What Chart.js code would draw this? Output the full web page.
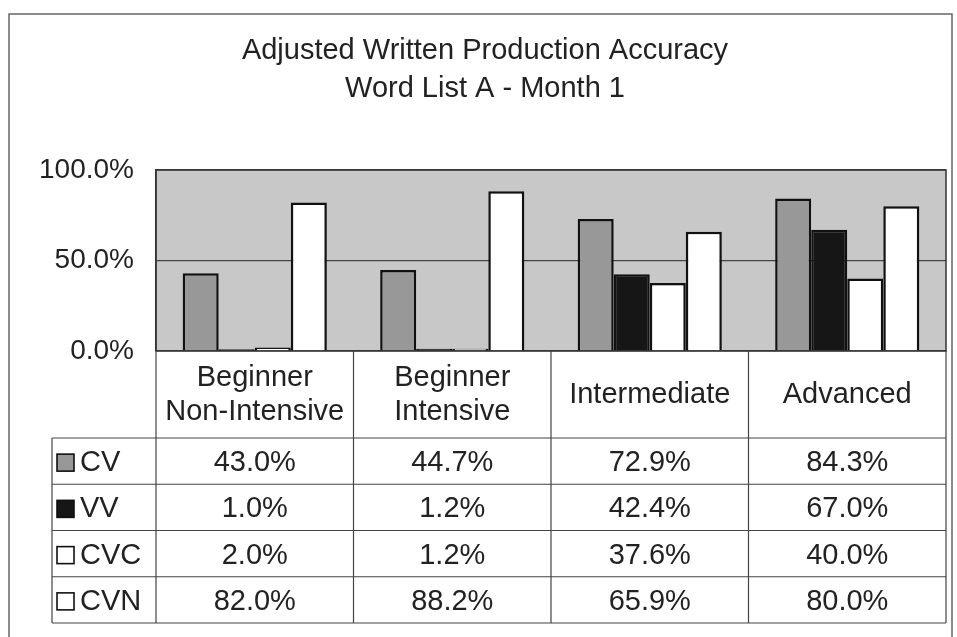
<!DOCTYPE html>
<html>
<head>
<meta charset="utf-8">
<script src="https://cdn.jsdelivr.net/npm/chart.js@4.4.1/dist/chart.umd.min.js"></script>
<style>
  html, body { margin: 0; padding: 0; background: #fff; }
  #wrap { width: 957px; height: 637px; }
</style>
</head>
<body>
<div id="wrap"><canvas id="barChart" width="957" height="637"></canvas></div>
<script>
const categories = [
    ['Beginner', 'Non-Intensive'],
    ['Beginner', 'Intensive'],
    ['Intermediate'],
    ['Advanced']
];
const seriesNames = ['CV', 'VV', 'CVC', 'CVN'];
const cvValues = [43.0, 44.7, 72.9, 84.3];
const vvValues = [1.0, 1.2, 42.4, 67.0];
const cvcValues = [2.0, 1.2, 37.6, 40.0];
const cvnValues = [82.0, 88.2, 65.9, 80.0];
const yTicks = [0, 50, 100];
const titleLines = ['Adjusted Written Production Accuracy', 'Word List A - Month 1'];

const FONT = '"Liberation Sans", Arial, sans-serif';
const TEXT = '#222';
const barColors = ['#989898', '#161616', '#ffffff', '#ffffff'];

// frame, plot background, title and the data table under the chart
const tablePlugin = {
    id: 'tablePlugin',
    beforeDraw(chart) {
        const { ctx, chartArea: a } = chart;
        ctx.save();
        ctx.fillStyle = '#fff';
        ctx.fillRect(0, 0, chart.width, chart.height);
        ctx.fillStyle = '#c8c8c8';
        ctx.fillRect(a.left, a.top, a.right - a.left, a.bottom - a.top);
        ctx.restore();
    },
    afterDraw(chart) {
        const { ctx, chartArea: a } = chart;
        const x = chart.scales.x;
        const ds = chart.data.datasets;
        ctx.save();

        // outer frame
        ctx.strokeStyle = '#666';
        ctx.lineWidth = 1.5;
        ctx.beginPath();
        ctx.moveTo(9, chart.height);
        ctx.lineTo(9, 14);
        ctx.lineTo(952, 14);
        ctx.lineTo(952, chart.height);
        ctx.stroke();

        // title
        ctx.fillStyle = TEXT;
        ctx.font = '29px ' + FONT;
        ctx.textAlign = 'center';
        ctx.textBaseline = 'middle';
        titleLines.forEach((t, i) => ctx.fillText(t, 485, 51 + i * 38));

        // plot border
        ctx.strokeStyle = '#333';
        ctx.lineWidth = 1.5;
        ctx.strokeRect(a.left, a.top, a.right - a.left, a.bottom - a.top);

        // table
        const half = (x.getPixelForValue(1) - x.getPixelForValue(0)) / 2;
        const headTop = a.bottom;
        const headBottom = 438;
        const rowH = 46.25;
        const labelLeft = 52;
        const tableBottom = headBottom + rowH * ds.length;

        ctx.strokeStyle = '#444';
        ctx.lineWidth = 1.2;
        ctx.beginPath();
        for (let i = 0; i <= categories.length; i++) {
            const px = i < categories.length ? x.getPixelForValue(i) - half : x.getPixelForValue(i - 1) + half;
            ctx.moveTo(px, headTop);
            ctx.lineTo(px, tableBottom);
        }
        ctx.moveTo(labelLeft, headBottom);
        ctx.lineTo(labelLeft, tableBottom);
        for (let r = 0; r <= ds.length; r++) {
            const py = headBottom + r * rowH;
            ctx.moveTo(labelLeft, py);
            ctx.lineTo(a.right, py);
        }
        ctx.stroke();

        // header labels
        ctx.fillStyle = TEXT;
        ctx.font = '29px ' + FONT;
        categories.forEach((lines, i) => {
            const cx = x.getPixelForValue(i);
            const cy = (headTop + headBottom) / 2;
            lines.forEach((l, j) => {
                ctx.fillText(l, cx, cy + (j - (lines.length - 1) / 2) * 34);
            });
        });

        // rows
        ds.forEach((d, r) => {
            const cy = headBottom + rowH * (r + 0.5) + 1;
            ctx.fillStyle = d.backgroundColor;
            ctx.fillRect(57, cy - 8, 17, 17);
            ctx.strokeStyle = '#111';
            ctx.lineWidth = 1.6;
            ctx.strokeRect(57, cy - 8, 17, 17);
            ctx.fillStyle = TEXT;
            ctx.textAlign = 'left';
            ctx.fillText(d.label, 80, cy + 1);
            ctx.textAlign = 'center';
            d.data.forEach((v, i) => {
                ctx.fillText(v.toFixed(1) + '%', x.getPixelForValue(i), cy + 1);
            });
        });
        ctx.restore();
    }
};

const ctx = document.getElementById('barChart').getContext('2d');
new Chart(ctx, {
    type: 'bar',
    data: {
        labels: categories.map(c => c.join(' ')),
        datasets: [cvValues, vvValues, cvcValues, cvnValues].map((vals, i) => ({
            label: seriesNames[i],
            data: vals,
            backgroundColor: barColors[i],
            borderColor: '#111',
            borderWidth: 2.5,
            borderSkipped: 'bottom',
            categoryPercentage: 0.73,
            barPercentage: 1.0
        }))
    },
    options: {
        responsive: false,
        animation: false,
        layout: { padding: { top: 170, right: 11, bottom: 286, left: 0 } },
        plugins: {
            legend: { display: false },
            title: { display: false },
            tooltip: { enabled: false }
        },
        scales: {
            x: { display: false },
            y: {
                min: 0,
                max: 100,
                afterFit: s => { s.width = 156; },
                afterBuildTicks: s => { s.ticks = yTicks.map(v => ({ value: v })); },
                ticks: {
                    color: TEXT,
                    font: { family: FONT, size: 28 },
                    padding: 22,
                    callback: v => v.toFixed(1) + '%'
                },
                grid: { color: '#444', lineWidth: 1.2, drawTicks: false },
                border: { display: true, color: '#333', width: 1.5 }
            }
        }
    },
    plugins: [tablePlugin]
});
</script>
</body>
</html>
